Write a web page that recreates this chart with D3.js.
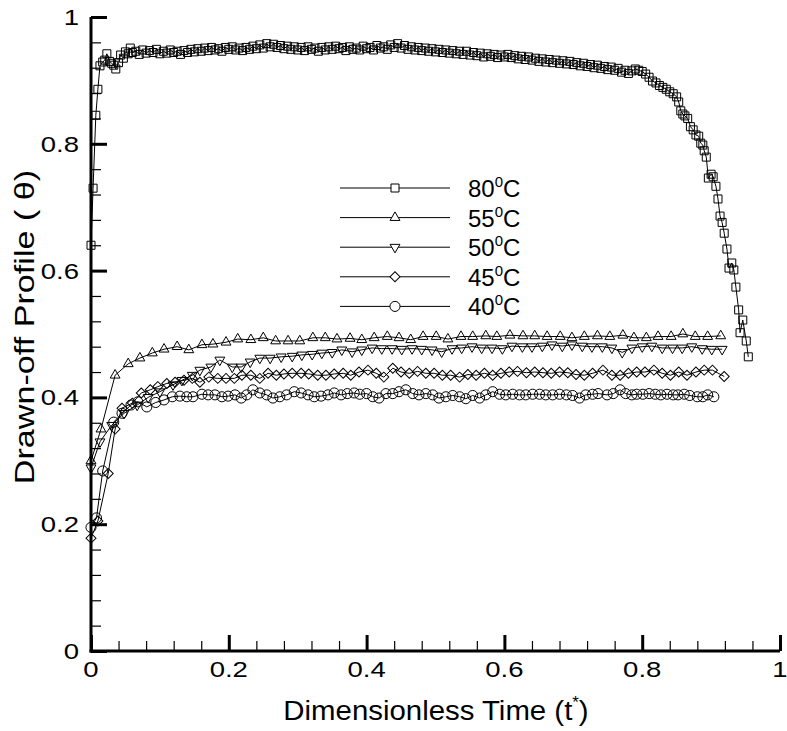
<!DOCTYPE html>
<html>
<head>
<meta charset="utf-8">
<script src="https://cdn.jsdelivr.net/npm/d3@7"></script>
<style>
  body { margin: 0; background: #fff; }
  svg text { font-family: "Liberation Sans", Arial, Helvetica, sans-serif; fill: #000; }
</style>
</head>
<body>
<div id="chart"></div>
<script>
"use strict";

// ticks
var majorTicks = [0, 0.2, 0.4, 0.6, 0.8, 1];
var majorLabels = ["0", "0.2", "0.4", "0.6", "0.8", "1"];

// legend
var seriesNames = ["80", "55", "50", "45", "40"];

// data: [t*, theta]
var s80 = [[0,0.640],[0.003,0.730],[0.007,0.845],[0.010,0.886],[0.013,0.923],[0.017,0.929],[0.020,0.932],[0.023,0.942],
  [0.027,0.930],[0.030,0.927],[0.033,0.924],[0.036,0.918],[0.040,0.928],[0.043,0.940],[0.047,0.935],[0.050,0.945],
  [0.054,0.942],[0.057,0.951],[0.060,0.944],[0.065,0.946],[0.070,0.941],[0.075,0.948],[0.080,0.943],[0.085,0.947],
  [0.090,0.944],[0.095,0.949],[0.100,0.942],[0.105,0.946],[0.110,0.943],[0.115,0.948],[0.120,0.944],[0.125,0.946],
  [0.130,0.941],[0.135,0.947],[0.140,0.944],[0.145,0.949],[0.150,0.945],[0.155,0.950],[0.160,0.946],[0.165,0.951],
  [0.170,0.947],[0.175,0.952],[0.180,0.948],[0.185,0.950],[0.190,0.946],[0.195,0.952],[0.200,0.949],[0.205,0.953],
  [0.210,0.948],[0.215,0.951],[0.220,0.947],[0.225,0.952],[0.230,0.949],[0.235,0.954],[0.240,0.950],[0.245,0.956],
  [0.250,0.951],[0.255,0.958],[0.260,0.953],[0.265,0.957],[0.270,0.952],[0.275,0.955],[0.280,0.950],[0.285,0.954],
  [0.290,0.949],[0.295,0.953],[0.300,0.948],[0.305,0.952],[0.310,0.947],[0.315,0.953],[0.320,0.949],[0.325,0.951],
  [0.330,0.946],[0.335,0.952],[0.340,0.948],[0.345,0.953],[0.350,0.949],[0.355,0.954],[0.360,0.950],[0.365,0.952],
  [0.370,0.947],[0.375,0.953],[0.380,0.949],[0.385,0.951],[0.390,0.948],[0.395,0.954],[0.400,0.950],[0.405,0.952],
  [0.410,0.948],[0.415,0.955],[0.420,0.951],[0.425,0.953],[0.430,0.949],[0.435,0.956],[0.440,0.952],[0.445,0.958],
  [0.450,0.951],[0.455,0.955],[0.460,0.949],[0.465,0.953],[0.470,0.948],[0.475,0.952],[0.480,0.947],[0.485,0.951],
  [0.490,0.946],[0.495,0.950],[0.500,0.945],[0.505,0.949],[0.510,0.944],[0.515,0.948],[0.520,0.943],[0.525,0.947],
  [0.530,0.942],[0.535,0.946],[0.540,0.941],[0.545,0.946],[0.550,0.940],[0.555,0.944],[0.560,0.939],[0.565,0.943],
  [0.570,0.937],[0.575,0.942],[0.580,0.938],[0.585,0.941],[0.590,0.936],[0.595,0.940],[0.600,0.937],[0.605,0.941],
  [0.610,0.936],[0.615,0.939],[0.620,0.934],[0.625,0.938],[0.630,0.933],[0.635,0.937],[0.640,0.932],[0.645,0.935],
  [0.650,0.930],[0.655,0.934],[0.660,0.929],[0.665,0.933],[0.670,0.928],[0.675,0.932],[0.680,0.927],[0.685,0.931],
  [0.690,0.926],[0.695,0.930],[0.700,0.925],[0.705,0.928],[0.710,0.923],[0.715,0.927],[0.720,0.922],[0.725,0.925],
  [0.730,0.920],[0.735,0.924],[0.740,0.919],[0.745,0.922],[0.750,0.917],[0.755,0.921],[0.760,0.916],[0.765,0.919],
  [0.770,0.913],[0.775,0.916],[0.780,0.911],[0.785,0.915],[0.790,0.918],[0.795,0.916],[0.800,0.914],[0.805,0.910],
  [0.810,0.905],[0.815,0.899],[0.820,0.896],[0.825,0.892],[0.830,0.889],[0.835,0.886],[0.840,0.882],[0.845,0.879],
  [0.850,0.874],[0.853,0.866],[0.856,0.852],[0.859,0.847],[0.862,0.844],[0.866,0.840],[0.870,0.827],[0.874,0.822],
  [0.878,0.814],[0.882,0.812],[0.885,0.801],[0.888,0.798],[0.890,0.789],[0.893,0.779],[0.896,0.746],[0.900,0.752],
  [0.903,0.748],[0.907,0.733],[0.910,0.713],[0.913,0.686],[0.916,0.676],[0.919,0.659],[0.923,0.634],[0.926,0.604],
  [0.930,0.612],[0.933,0.601],[0.936,0.574],[0.940,0.538],[0.942,0.502],[0.946,0.522],[0.951,0.489],[0.954,0.464]];

var s55 = [[0,0.300],[0.0145,0.350],[0.035,0.435],[0.054,0.453],[0.071,0.462],[0.089,0.470],[0.106,0.476],[0.125,0.480],
  [0.142,0.475],[0.161,0.483],[0.177,0.484],[0.196,0.487],[0.213,0.492],[0.232,0.491],[0.250,0.494],[0.268,0.489],
  [0.286,0.489],[0.303,0.489],[0.322,0.494],[0.340,0.494],[0.357,0.492],[0.376,0.493],[0.393,0.491],[0.411,0.494],
  [0.430,0.496],[0.447,0.494],[0.464,0.491],[0.482,0.496],[0.501,0.496],[0.518,0.492],[0.537,0.496],[0.554,0.496],
  [0.573,0.497],[0.589,0.496],[0.608,0.498],[0.627,0.497],[0.644,0.497],[0.662,0.496],[0.681,0.496],[0.698,0.494],
  [0.716,0.496],[0.735,0.497],[0.753,0.496],[0.772,0.498],[0.788,0.494],[0.806,0.494],[0.823,0.496],[0.842,0.496],
  [0.859,0.500],[0.877,0.496],[0.895,0.496],[0.914,0.497]];

var s50 = [[0,0.289],[0.013,0.330],[0.030,0.356],[0.048,0.375],[0.067,0.388],[0.083,0.400],[0.100,0.409],[0.119,0.420],
  [0.132,0.427],[0.147,0.435],[0.158,0.443],[0.174,0.448],[0.187,0.459],[0.205,0.448],[0.218,0.448],[0.231,0.456],
  [0.245,0.462],[0.260,0.462],[0.276,0.464],[0.292,0.465],[0.306,0.467],[0.321,0.468],[0.335,0.470],[0.350,0.471],
  [0.364,0.475],[0.379,0.472],[0.393,0.475],[0.408,0.478],[0.422,0.477],[0.437,0.477],[0.451,0.476],[0.466,0.477],
  [0.480,0.476],[0.495,0.475],[0.509,0.472],[0.524,0.477],[0.538,0.478],[0.553,0.480],[0.567,0.478],[0.582,0.478],
  [0.597,0.477],[0.611,0.481],[0.626,0.480],[0.640,0.480],[0.655,0.481],[0.669,0.483],[0.684,0.481],[0.698,0.483],
  [0.713,0.481],[0.727,0.480],[0.742,0.480],[0.756,0.478],[0.771,0.471],[0.785,0.478],[0.800,0.480],[0.814,0.481],
  [0.829,0.478],[0.844,0.478],[0.858,0.478],[0.872,0.480],[0.887,0.477],[0.901,0.476],[0.916,0.476]];

var s45 = [[0,0.178],[0.010,0.205],[0.025,0.280],[0.035,0.350],[0.045,0.383],[0.060,0.391],[0.073,0.407],[0.086,0.412],
  [0.097,0.417],[0.110,0.422],[0.122,0.424],[0.135,0.427],[0.147,0.430],[0.158,0.424],[0.171,0.432],[0.184,0.430],
  [0.196,0.430],[0.208,0.430],[0.219,0.435],[0.232,0.435],[0.245,0.430],[0.257,0.438],[0.269,0.435],[0.280,0.437],
  [0.292,0.438],[0.305,0.438],[0.316,0.437],[0.329,0.435],[0.341,0.435],[0.353,0.437],[0.366,0.438],[0.377,0.435],
  [0.389,0.440],[0.402,0.443],[0.414,0.438],[0.425,0.432],[0.438,0.446],[0.450,0.440],[0.462,0.438],[0.474,0.441],
  [0.486,0.438],[0.498,0.438],[0.510,0.435],[0.522,0.435],[0.535,0.432],[0.547,0.436],[0.559,0.435],[0.571,0.438],
  [0.583,0.435],[0.595,0.438],[0.607,0.440],[0.619,0.441],[0.632,0.439],[0.644,0.440],[0.656,0.439],[0.668,0.438],
  [0.680,0.440],[0.692,0.439],[0.704,0.436],[0.716,0.435],[0.728,0.438],[0.743,0.443],[0.756,0.435],[0.768,0.435],
  [0.780,0.438],[0.792,0.440],[0.804,0.440],[0.817,0.443],[0.829,0.438],[0.841,0.435],[0.853,0.440],[0.865,0.435],
  [0.878,0.440],[0.890,0.443],[0.902,0.443],[0.919,0.433]];

var s40 = [[0,0.195],[0.008,0.210],[0.017,0.284],[0.033,0.361],[0.045,0.375],[0.058,0.388],[0.068,0.393],[0.081,0.385],
  [0.094,0.392],[0.106,0.396],[0.118,0.401],[0.129,0.402],[0.139,0.401],[0.148,0.401],[0.161,0.405],[0.170,0.404],
  [0.180,0.404],[0.190,0.401],[0.199,0.402],[0.209,0.404],[0.218,0.399],[0.226,0.404],[0.235,0.412],[0.245,0.407],
  [0.255,0.404],[0.264,0.399],[0.274,0.401],[0.284,0.404],[0.295,0.409],[0.305,0.407],[0.315,0.404],[0.324,0.401],
  [0.334,0.402],[0.344,0.404],[0.353,0.407],[0.363,0.404],[0.372,0.406],[0.382,0.407],[0.390,0.405],[0.400,0.406],
  [0.409,0.401],[0.418,0.399],[0.428,0.406],[0.438,0.406],[0.447,0.409],[0.457,0.412],[0.467,0.406],[0.476,0.404],
  [0.486,0.406],[0.496,0.404],[0.505,0.399],[0.515,0.401],[0.525,0.403],[0.535,0.401],[0.544,0.398],[0.554,0.403],
  [0.564,0.399],[0.573,0.404],[0.583,0.409],[0.593,0.405],[0.602,0.404],[0.612,0.405],[0.622,0.404],[0.631,0.404],
  [0.641,0.405],[0.651,0.405],[0.660,0.404],[0.670,0.404],[0.680,0.405],[0.690,0.404],[0.699,0.403],[0.709,0.399],
  [0.718,0.404],[0.728,0.405],[0.736,0.406],[0.749,0.404],[0.758,0.406],[0.768,0.412],[0.776,0.406],[0.785,0.404],
  [0.792,0.405],[0.801,0.405],[0.810,0.406],[0.819,0.405],[0.827,0.404],[0.836,0.405],[0.845,0.404],[0.852,0.404],
  [0.861,0.405],[0.869,0.403],[0.880,0.401],[0.888,0.401],[0.895,0.404],[0.904,0.401]];

var W = 787, H = 731;
var svg = d3.select("#chart").append("svg").attr("width", W).attr("height", H);

var x = d3.scaleLinear().domain([0, 1]).range([91, 780]);
var y = d3.scaleLinear().domain([0, 1]).range([651, 17]);

var minorTicks = d3.range(0, 1.0001, 0.04).filter(function (v) {
  return majorTicks.every(function (m) { return Math.abs(m - v) > 1e-6; });
});

function tickStyle(g, w) {
  g.select(".domain").remove();
  g.selectAll("line").attr("stroke", "#000").attr("stroke-width", w);
}

// minor ticks (inward)
svg.append("g").attr("transform", "translate(0,651)")
  .call(d3.axisBottom(x).tickValues(minorTicks).tickSize(-10).tickFormat(""))
  .call(tickStyle, 1.2);
svg.append("g").attr("transform", "translate(91,0)")
  .call(d3.axisLeft(y).tickValues(minorTicks).tickSize(-10).tickFormat(""))
  .call(tickStyle, 1.2);

// major ticks
svg.append("g").attr("transform", "translate(0,651)")
  .call(d3.axisBottom(x).tickValues(majorTicks).tickSize(-16).tickFormat(""))
  .call(tickStyle, 3);
svg.append("g").attr("transform", "translate(91,0)")
  .call(d3.axisLeft(y).tickValues(majorTicks).tickSize(-16).tickFormat(""))
  .call(tickStyle, 3);

// axis lines
svg.append("line").attr("x1", x(0) - 1.5).attr("x2", x(1)).attr("y1", y(0)).attr("y2", y(0))
  .attr("stroke", "#000").attr("stroke-width", 3);
svg.append("line").attr("x1", x(0)).attr("x2", x(0)).attr("y1", y(0) + 1.5).attr("y2", y(1))
  .attr("stroke", "#000").attr("stroke-width", 3);

// tick labels (the original lettering is a bit wide)
var labelSize = 22, labelStretch = 1.25;
majorTicks.forEach(function (v, i) {
  svg.append("g").attr("transform", "translate(" + x(v) + ",677) scale(" + labelStretch + ",1)")
    .append("text").attr("text-anchor", "middle").attr("font-size", labelSize).text(majorLabels[i]);
  svg.append("g").attr("transform", "translate(79," + (y(v) + 8) + ") scale(" + labelStretch + ",1)")
    .append("text").attr("text-anchor", "end").attr("font-size", labelSize).text(majorLabels[i]);
});

// symbols
var symSquare = d3.symbol().type(d3.symbolSquare).size(64);
var symTri = d3.symbol().type(d3.symbolTriangle).size(42);
var symDiamond = d3.symbol().type(d3.symbolSquare).size(50);
var symCircle = d3.symbol().type(d3.symbolCircle).size(80);
var markers = [
  { path: symSquare(), rot: 0 },
  { path: symTri(), rot: 0 },
  { path: symTri(), rot: 180 },
  { path: symDiamond(), rot: 45 },
  { path: symCircle(), rot: 0 }
];
var allSeries = [s80, s55, s50, s45, s40];

var line = d3.line().x(function (d) { return x(d[0]); }).y(function (d) { return y(d[1]); });

var plot = svg.append("g");
allSeries.slice().reverse().forEach(function (data, ri) {
  var i = allSeries.length - 1 - ri;
  var g = plot.append("g");
  g.append("path").datum(data).attr("d", line)
    .attr("fill", "none").attr("stroke", "#000").attr("stroke-width", 1);
  g.selectAll("path.mk").data(data).enter().append("path").attr("class", "mk")
    .attr("d", markers[i].path)
    .attr("transform", function (d) { return "translate(" + x(d[0]) + "," + y(d[1]) + ") rotate(" + markers[i].rot + ")"; })
    .attr("fill", "none").attr("stroke", "#000").attr("stroke-width", 1);
});

// legend
var legend = svg.append("g");
seriesNames.forEach(function (name, i) {
  var cy = 188 + i * 29.6;
  legend.append("line").attr("x1", 340).attr("x2", 450).attr("y1", cy).attr("y2", cy)
    .attr("stroke", "#000").attr("stroke-width", 1);
  legend.append("path").attr("d", markers[i].path)
    .attr("transform", "translate(395," + cy + ") rotate(" + markers[i].rot + ")")
    .attr("fill", "#fff").attr("stroke", "#000").attr("stroke-width", 1);
  var t = legend.append("text").attr("x", 468).attr("y", cy + 9).attr("font-size", 24);
  t.append("tspan").text(name);
  t.append("tspan").attr("font-size", 15).attr("dy", -10).text("0");
  t.append("tspan").attr("dy", 10).text("C");
});

// axis titles
var xt = svg.append("g").attr("transform", "translate(436,720) scale(1.05,1)")
  .append("text").attr("text-anchor", "middle").attr("font-size", 28);
xt.append("tspan").text("Dimensionless Time (t");
xt.append("tspan").attr("font-size", 16).attr("dy", -12).text("*");
xt.append("tspan").attr("dy", 12).text(")");

svg.append("g").attr("transform", "translate(34,327) rotate(-90) scale(1.22,1)")
  .append("text").attr("text-anchor", "middle").attr("font-size", 28)
  .text("Drawn-off Profile ( \u03B8)");
</script>
</body>
</html>
